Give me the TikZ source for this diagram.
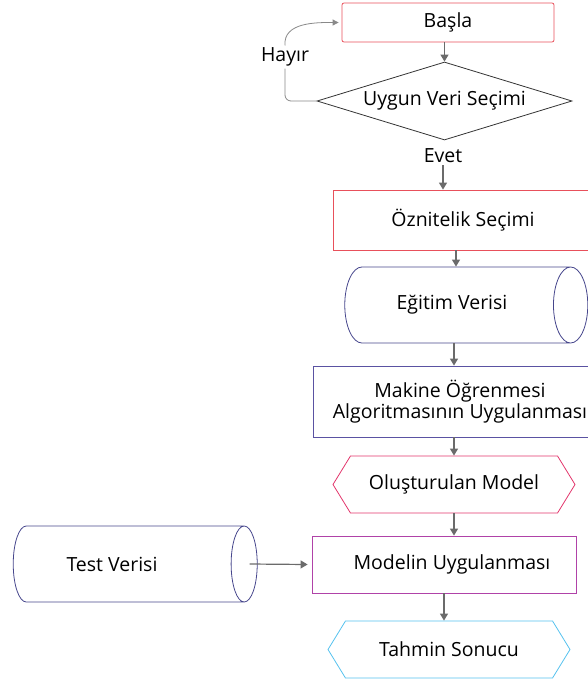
\documentclass[tikz,border=0pt]{standalone}
\usepackage{fontspec}
\setmainfont{Open Sans}
\usetikzlibrary{arrows.meta,shapes.geometric,shapes.symbols}
\definecolor{baslared}{HTML}{E8505B}
\definecolor{verinavy}{HTML}{46468C}
\definecolor{algopurple}{HTML}{5A52A2}
\definecolor{modelpink}{HTML}{E2356B}
\definecolor{uygmagenta}{HTML}{B042A8}
\definecolor{tahminblue}{HTML}{56C2EE}
\definecolor{okgray}{HTML}{6B6B6B}
\tikzset{
  akis/.style={draw=#1,line width=0.8pt,align=center,inner sep=0pt},
  kutu/.style={akis=#1,rectangle},
  % cylinder: minimum width is the vertical size here
  veri/.style={akis=#1,cylinder,aspect=1.8,minimum width=76pt},
  sonuc/.style={akis=#1,signal,signal to=west and east,signal pointer angle=117,minimum height=57pt},
  ok/.style={draw=okgray,line width=1.2pt,-{Triangle[length=7pt,width=8pt]}},
  etiket/.style={inner sep=2pt}
}
\begin{document}
\begin{tikzpicture}[x=1pt,y=1pt,font=\fontsize{19.5}{21}\selectfont]
\useasboundingbox (0,-683) rectangle (587,0);
\node[kutu=baslared,rounded corners=2pt,minimum width=212pt,minimum height=39pt] (basla) at (448,-22.5) {Başla};
\node[akis=black!80,diamond,aspect=3.27,minimum width=255pt,minimum height=78pt] (dia) at (444.5,-101) {Uygun Veri Seçimi};
\node[etiket] (hayir) at (285,-57) {Hayır};
\node[etiket] (evet) at (443,-156) {Evet};
\node[kutu=baslared,minimum width=260pt,minimum height=60pt] (oz) at (463,-220) {Öznitelik Seçimi};
\node[veri=verinavy,minimum height=243pt] (egitim) at (457.5,-305) {Eğitim Verisi\hspace*{11pt}};
\node[kutu=algopurple,minimum width=294pt,minimum height=71pt] (makine) at (460,-401.5) {Makine Öğrenmesi\\Algoritmasının Uygulanması};
\node[sonuc=modelpink,minimum width=242pt] (olus) at (454,-484.5) {Oluşturulan Model};
\node[kutu=uygmagenta,minimum width=264pt,minimum height=57pt] (modelin) at (444,-564.5) {\hspace*{16pt}Modelin Uygulanması};
\node[sonuc=tahminblue,minimum width=242pt] (tahmin) at (449,-649.5) {Tahmin Sonucu};
\node[veri=verinavy,minimum height=244pt] (test) at (128.5,-564) {Test Verisi\hspace*{33pt}};
% hayir dongusu
\draw[okgray!80,line width=0.8pt,rounded corners=6pt] (dia.west) -| (hayir.south);
\draw[okgray!80,line width=0.8pt,-{Triangle[length=6pt,width=6pt]},shorten >=3pt] (hayir.north) to[out=95,in=180] (basla.west);
% ana akis
\draw[ok] (dia.north |- basla.south) -- (dia.north);
\draw[ok] (evet.south) -- (evet.south |- oz.north);
\draw[ok] ([xshift=-7pt]oz.south) -- ([xshift=-7pt]oz.south |- egitim.north);
\draw[ok] ([xshift=-6pt]makine.north |- egitim.south) -- ([xshift=-6pt]makine.north);
\draw[ok] (olus.north |- makine.south) -- (olus.north);
\draw[ok] (olus.south) -- (olus.south |- modelin.north);
\draw[ok] (modelin.south) -- (modelin.south |- tahmin.north);
\draw[ok] ([xshift=-8pt]test.east) -- ([xshift=-4pt]modelin.west);
\end{tikzpicture}
\end{document}
